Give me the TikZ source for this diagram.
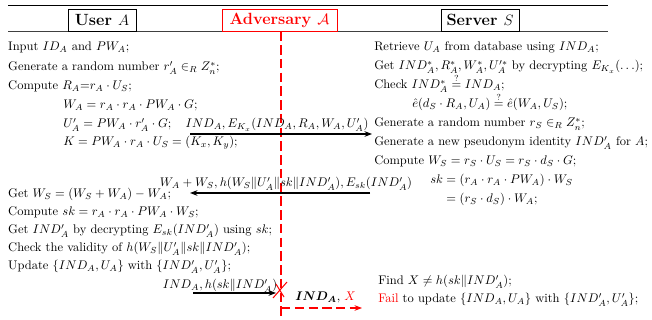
\documentclass[tikz,border=0pt]{standalone}
\usepackage{amsmath,amssymb,bm}
\usetikzlibrary{arrows.meta}
\begin{document}
\begin{tikzpicture}[x=0.8pt,y=-0.8pt,
  txt/.style={anchor=base west,inner sep=0pt},
  lbl/.style={anchor=base,inner sep=0pt},
  hdr/.style={draw,inner sep=0pt,line width=0.7pt,
    font=\fontsize{13}{15}\selectfont\bfseries,minimum height=17.6pt},
  msg/.style={-{Stealth[length=6pt,width=4.5pt]},line width=0.9pt},
  advdash/.style={red,line width=0.9pt,dash pattern=on 7.5pt off 3.5pt},
  rulebar/.style={line width=0.8pt}
]
\useasboundingbox (0,0) rectangle (652,320);

% header rules
\draw[rulebar] (8,6) -- (608,6);
\draw[rulebar,black!75] (8,31.5) -- (608,31.5);

% party headers
\node[hdr,fill=white,minimum width=54.4pt] (user) at (102,20) {User $A$};
\node[hdr,fill=white,draw=red,text=red,minimum width=92pt] (adv) at (279.5,20) {Adversary $\mathcal{A}$};
\node[hdr,fill=white,minimum width=62.4pt] (server) at (480,20) {Server $S$};

% adversary lifeline
\coordinate (advend) at (281,320);
\coordinate (turn) at (281,308);
\coordinate (fwd) at (362,308);
\draw[advdash] (adv.south -| advend) -- (advend);

% user side
\node[txt] (u1) at (8,51) {Input $ID_A$ and $PW_A$;};
\node[txt] (u2) at (8,71) {Generate a random number $r'_A \in_R Z_n^*$;};
\node[txt] (u3) at (8,90) {Compute $R_A{=}r_A\cdot U_S$;};
\node[txt] (u4) at (63,109) {$W_A = r_A\cdot r_A\cdot PW_A\cdot G$;};
\node[txt] (u5) at (63,128) {$U'_A = PW_A\cdot r'_A\cdot G$;};
\node[txt] (u6) at (63,146) {$K = PW_A\cdot r_A\cdot U_S = (K_x, K_y)$;};
\node[txt] (u7) at (8,198) {Get $W_S = (W_S + W_A) - W_A$;};
\node[txt] (u8) at (8,216) {Compute $sk = r_A\cdot r_A\cdot PW_A\cdot W_S$;};
\node[txt] (u9) at (8,234) {Get $IND'_A$ by decrypting $E_{sk}(IND'_A)$ using $sk$;};
\node[txt] (u10) at (8,252) {Check the validity of $h(W_S\|U'_A\|sk\|IND'_A)$;};
\node[txt] (u11) at (8,270) {Update $\{IND_A, U_A\}$ with $\{IND'_A, U'_A\}$;};

% server side
\node[txt] (s1) at (374,51) {Retrieve $U_A$ from database using $IND_A$;};
\node[txt] (s2) at (374,70) {Get $IND^*_A, R^*_A, W^*_A, U'^*_A$ by decrypting $E_{K_x}(\ldots)$;};
\node[txt] (s3) at (374,89) {Check $IND^*_A \stackrel{?}{=} IND_A$;};
\node[txt] (s4) at (412,108) {$\hat{e}(d_S\cdot R_A, U_A) \stackrel{?}{=} \hat{e}(W_A, U_S)$;};
\node[txt] (s5) at (374,127) {Generate a random number $r_S \in_R Z_n^*$;};
\node[txt] (s6) at (374,146) {Generate a new pseudonym identity $IND'_A$ for $A$;};
\node[txt] (s7) at (374,165) {Compute $W_S = r_S\cdot U_S = r_S\cdot d_S\cdot G$;};
\node[txt] (s8) at (430,184) {$sk = (r_A\cdot r_A\cdot PW_A)\cdot W_S$};
\node[txt] (s9) at (430,203) {$\phantom{sk} = (r_S\cdot d_S)\cdot W_A$;};
\node[txt] (s10) at (378,285) {Find $X \neq h(sk\|IND'_A)$;};
\node[txt] (s11) at (378,303) {\textcolor{red}{Fail} to update $\{IND_A, U_A\}$ with $\{IND'_A, U'_A\}$;};

% message 1: user -> server
\coordinate (m1a) at (190,134);
\coordinate (m1b) at (372,134);
\draw[msg] (m1a) -- (m1b);
\node[lbl] (m1l) at (277,128) {$IND_A, E_{K_x}(IND_A, R_A, W_A, U'_A)$};

% message 2: server -> user
\coordinate (m2a) at (370,193);
\coordinate (m2b) at (190,193);
\draw[msg] (m2a) -- (m2b);
\node[lbl] (m2l) at (286,187) {$W_A + W_S, h(W_S\|U'_A\|sk\|IND'_A), E_{sk}(IND'_A)$};

% message 3: intercepted by the adversary
\coordinate (m3a) at (193,293);
\coordinate (m3b) at (276,293);
\draw[msg] (m3a) -- (m3b);
\node[lbl] (m3l) at (220,289) {$IND_A, h(sk\|IND'_A)$};
\draw[red,line width=0.8pt] (273,298) -- (287,282);
\draw[red,line width=0.8pt] (276,284) -- (284,297);

% forged message from the adversary
\draw[advdash,-{Stealth[length=6pt,width=4.5pt]}] (turn) -- (fwd);
\node[txt] (m4l) at (295,301) {$\boldsymbol{IND_A}$, \textcolor{red}{$X$}};
\end{tikzpicture}
\end{document}
